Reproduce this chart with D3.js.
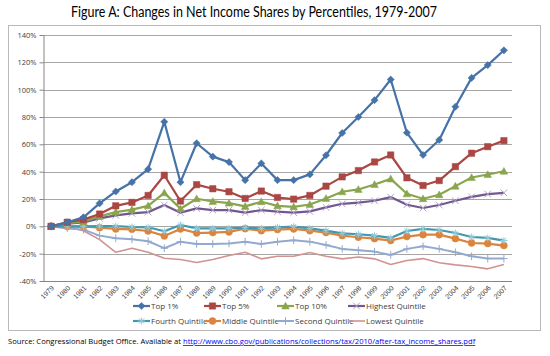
<!DOCTYPE html>
<html><head><meta charset="utf-8">
<script src="https://cdn.jsdelivr.net/npm/d3@7"></script>
<style>
body{margin:0;background:#fff;}
svg{display:block;font-family:"Open Sans",sans-serif;}
</style></head><body>
<svg id="c" width="550" height="356"></svg>
<script>
const years = ["1979","1980","1981","1982","1983","1984","1985","1986","1987","1988","1989","1990","1991","1992","1993","1994","1995","1996","1997","1998","1999","2000","2001","2002","2003","2004","2005","2006","2007"];
const top1 = [0,3,6.6,16.8,25.5,32.3,41.8,76.5,32.3,60.8,51,47,33.8,46,33.8,33.8,38,52,68.3,80,92.3,107.4,68.5,52.2,63.2,87.5,108.6,118,128.8];
const top5 = [0,3,4.9,9,15,17.5,22.6,37.4,18.5,30.5,27.5,25.3,20.4,25.8,21.1,19.9,22.6,29.4,36.2,40.8,47.1,52.2,35.5,29.9,33.5,43.7,53.5,58.3,62.7];
const top10 = [0,2.4,3.6,7.3,10.4,12.2,15,24.5,12.9,20.2,18.2,17,14.6,18,15,14.3,16,20.4,25.3,27,30.6,34.7,23.8,20.2,23.1,29.4,35.7,37.9,40.3];
const highestQ = [0,1.9,2.9,5.8,8,9.5,10.4,15.6,10,13.1,11.9,11.9,10,11.9,10.7,10,10.9,13.9,16.5,17.3,18.7,21.4,15.8,13.4,15.6,18.7,21.6,23.6,24.5];
const fourthQ = [0,0,0,0.2,0.2,-0.5,-0.7,-3.6,1,-1.5,-1.5,-1.5,-1,-1.5,-0.7,-0.2,-1.5,-3.2,-5.1,-5.8,-6.8,-8.5,-3.4,-1.9,-2.7,-4.9,-7.8,-8.5,-10.4];
const middleQ = [0,-0.2,0,-1,-1.9,-2.2,-3.4,-7,-1.9,-4.9,-4.6,-4.1,-1.7,-3.2,-2.4,-1.9,-3.2,-4.6,-6.8,-8,-9,-10.4,-7.5,-6.1,-6.1,-9,-12.2,-12.6,-14.1];
const secondQ = [0,-1.5,-2.4,-6.8,-8.7,-9.5,-10.9,-16,-11.2,-12.9,-12.9,-12.6,-11.2,-12.9,-11.2,-10.2,-11.2,-13.6,-16.5,-17.5,-18.5,-20.9,-16.5,-14.6,-16.5,-19,-21.9,-23.6,-23.6];
const lowestQ = [0,-0.5,-3.2,-9.7,-19,-16,-19,-23.3,-24.3,-26.4,-24.3,-21.4,-19,-23.8,-21.9,-21.9,-19.2,-21.9,-23.8,-22.4,-23.8,-27.9,-25,-23.6,-26.7,-28.2,-29.4,-31.1,-27.9];
const seriesNames = ["Top 1%","Top 5%","Top 10%","Highest Quintile","Fourth Quintile","Middle Quintile","Second Quintile","Lowest Quintile"];
const yTicks = [-40,-20,0,20,40,60,80,100,120,140];
const titleText = "Figure A: Changes in Net Income Shares by Percentiles, 1979-2007";
const sourceText = "Source: Congressional Budget Office.  Available at ";
const sourceUrl = "http://www.cbo.gov/publications/collections/tax/2010/after-tax_income_shares.pdf";

const seriesValues = [top1, top5, top10, highestQ, fourthQ, middleQ, secondQ, lowestQ];
const styles = [
  {c:"#4572A7", mc:"#4572A7", m:"diamond", w:2.2},
  {c:"#AA4643", mc:"#AA4643", m:"square", w:2.2},
  {c:"#89A54E", mc:"#89A54E", m:"triangle", w:2.2},
  {c:"#71588F", mc:"#B3A2C7", m:"x", w:2.2},
  {c:"#4198AF", mc:"#93CDDD", m:"star", w:2.2},
  {c:"#DB843D", mc:"#DB843D", m:"circle", w:2.2},
  {c:"#93A9CF", mc:"#93A9CF", m:"plus", w:2},
  {c:"#D19392", mc:null, m:null, w:1.6}
];

function markerPath(t){
  const r=3.6;
  switch(t){
    case "diamond": return `M0,${-r}L${r},0L0,${r}L${-r},0Z`;
    case "square": return `M-3.2,-3.2H3.2V3.2H-3.2Z`;
    case "triangle": return `M0,-3.8L3.8,3H-3.8Z`;
    case "circle": return d3.symbol(d3.symbolCircle, 38)();
    case "x": return `M-3.3,-3.3L3.3,3.3M-3.3,3.3L3.3,-3.3`;
    case "plus": return `M-3.8,0H3.8M0,-3.8V3.8`;
    case "star": return `M-3.5,0H3.5M0,-3.5V3.5M-2.6,-2.6L2.6,2.6M-2.6,2.6L2.6,-2.6`;
  }
  return "";
}
const strokeMarkers = {x:1,plus:1,star:1};

const svg = d3.select("#c");
// outer box
svg.append("rect").attr("x",8.5).attr("y",25.5).attr("width",532).attr("height",305)
  .attr("fill","#fff").attr("stroke","#b9b9b9").attr("stroke-width",1);

svg.append("text").attr("x",254).attr("y",17).attr("text-anchor","middle")
  .attr("font-family","Lato, 'Open Sans', sans-serif").attr("font-size",14.5).attr("fill","#000")
  .attr("textLength",366).attr("lengthAdjust","spacingAndGlyphs").text(titleText);

const x = d3.scalePoint().domain(years).range([43,512]).padding(0.5);
const y = d3.scaleLinear().domain([-40,140]).range([281,35]);

// gridlines
svg.append("g").selectAll("line").data(yTicks.filter(d=>d>-40)).join("line")
  .attr("x1",43).attr("x2",512).attr("y1",d=>Math.round(y(d))+0.5).attr("y2",d=>Math.round(y(d))+0.5)
  .attr("stroke","#a6a6a6").attr("stroke-width",1);

// y axis
const ya = svg.append("g").attr("transform","translate(43.5,0)")
  .call(d3.axisLeft(y).tickValues(yTicks).tickFormat(d=>d+"%").tickSize(4).tickSizeOuter(0));
ya.select(".domain").attr("stroke","#868686");
ya.selectAll(".tick line").attr("stroke","#868686");
ya.selectAll(".tick text").attr("font-size",7.5).attr("fill","#404040").attr("font-family","'Open Sans',sans-serif");

// x axis
const xa = svg.append("g").attr("transform",`translate(0,${Math.round(y(-40))+0.5})`)
  .call(d3.axisBottom(x).tickSize(0).tickSizeOuter(0));
xa.select(".domain").attr("stroke","#868686").attr("d","M43,0H512");
xa.selectAll(".tick text").attr("font-size",7).attr("fill","#404040")
  .attr("text-anchor","end").attr("dy",0).attr("y",0)
  .attr("transform","translate(3,7) rotate(-45)");

// lines
const line = d3.line().x((d,i)=>x(years[i])).y(d=>y(d));
const order = [7,6,5,4,3,2,1,0];
order.forEach(k=>{
  const st = styles[k];
  const g = svg.append("g");
  g.append("path").datum(seriesValues[k]).attr("d",line).attr("fill","none")
    .attr("stroke",st.c).attr("stroke-width",st.w).attr("stroke-linejoin","round");
  if(st.m){
    g.selectAll("path.m").data(seriesValues[k]).join("path").attr("class","m")
      .attr("transform",(d,i)=>`translate(${x(years[i])},${y(d)})`)
      .attr("d",markerPath(st.m))
      .attr("fill",strokeMarkers[st.m]?"none":st.mc)
      .attr("stroke",st.mc).attr("stroke-width",strokeMarkers[st.m]?1:0.5);
  }
});

// legend
const legX = [133,204,277,348];
const legY = [306,321];
seriesNames.forEach((name,k)=>{
  const st = styles[k];
  const lx = legX[k%4], ly = legY[Math.floor(k/4)];
  const g = svg.append("g").attr("transform",`translate(${lx},${ly})`);
  g.append("line").attr("x1",0).attr("x2",17).attr("y1",0).attr("y2",0)
    .attr("stroke",st.c).attr("stroke-width",st.w);
  if(st.m){
    g.append("path").attr("transform","translate(8.5,0)").attr("d",markerPath(st.m))
      .attr("fill",strokeMarkers[st.m]?"none":st.mc).attr("stroke",st.mc)
      .attr("stroke-width",strokeMarkers[st.m]?1:0.5);
  }
  g.append("text").attr("x",18).attr("y",3).attr("font-size",8).attr("fill","#404040").text(name);
});

// source
const src = svg.append("text").attr("x",8).attr("y",344).attr("font-size",7.6).attr("fill","#000")
  .attr("font-family","'Open Sans',sans-serif");
src.append("tspan").text(sourceText);
src.append("tspan").attr("fill","#0000ee").attr("text-decoration","underline").text(sourceUrl);
</script>
</body></html>
